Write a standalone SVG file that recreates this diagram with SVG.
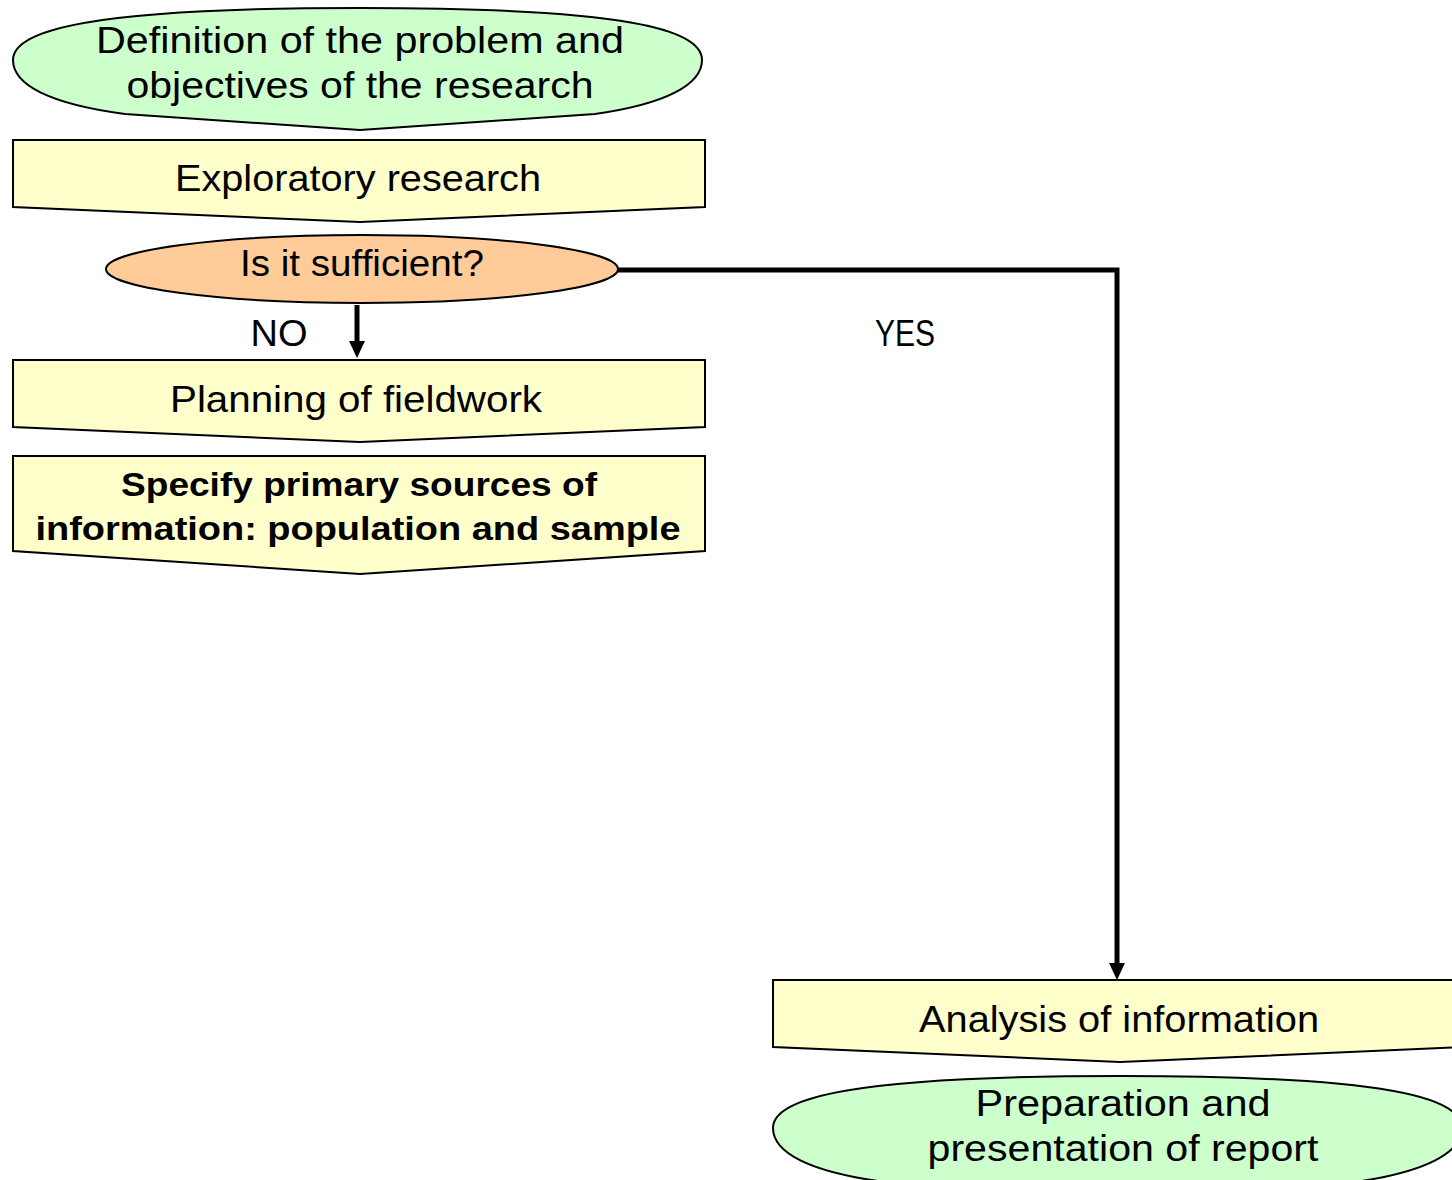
<svg xmlns="http://www.w3.org/2000/svg" width="1452" height="1180" viewBox="0 0 1452 1180">
<style>
.t{font-family:"Liberation Sans",Arial,sans-serif;font-size:36px;fill:#000;text-anchor:middle}
.b{font-weight:bold;font-size:34px}
.green{fill:#CCFFCC;stroke:#000;stroke-width:2}
.yellow{fill:#FFFFCC;stroke:#000;stroke-width:2}
.peach{fill:#FFCC99;stroke:#000;stroke-width:2}
.conn{fill:none;stroke:#000;stroke-width:5}
.head{fill:#000}
</style>
<defs>
<path id="term" d="M 125,114 C 50,104 13,85 13,60 C 13,30 90,8 360,8 C 630,8 702,30 702,60 C 702,85 665,104 595,114 L 360,130 Z"/>
<path id="ah" d="M-8,-17 L8,-17 L0,0 Z"/>
</defs>
<rect width="1452" height="1180" fill="#fff"/>
<g id="connectors">
<path class="conn" d="M 616,270 L 1117,270 L 1117,966"/>
<use href="#ah" class="head" x="1117" y="980"/>
<path class="conn" d="M 357,305 L 357,344"/>
<use href="#ah" class="head" x="357" y="358"/>
<text class="t" x="279" y="346" textLength="57" lengthAdjust="spacingAndGlyphs">NO</text>
<text class="t" x="905" y="346" textLength="60" lengthAdjust="spacingAndGlyphs">YES</text>
</g>
<g id="n1">
<use href="#term" class="green"/>
<text class="t" x="360" y="53" textLength="528" lengthAdjust="spacingAndGlyphs">Definition of the problem and</text>
<text class="t" x="360" y="98" textLength="467" lengthAdjust="spacingAndGlyphs">objectives of the research</text>
</g>
<g id="n2">
<path class="yellow" d="M13,140 L705,140 L705,207 L360,222 L13,207 Z"/>
<text class="t" x="358" y="191" textLength="366" lengthAdjust="spacingAndGlyphs">Exploratory research</text>
</g>
<g id="n3">
<ellipse class="peach" cx="362" cy="269" rx="256" ry="34"/>
<text class="t" x="362" y="276" textLength="244" lengthAdjust="spacingAndGlyphs">Is it sufficient?</text>
</g>
<g id="n4">
<path class="yellow" d="M13,360 L705,360 L705,427 L360,442 L13,427 Z"/>
<text class="t" x="356" y="412" textLength="372" lengthAdjust="spacingAndGlyphs">Planning of fieldwork</text>
</g>
<g id="n5">
<path class="yellow" d="M13,456 L705,456 L705,551 L360,574 L13,551 Z"/>
<text class="t b" x="359" y="496" textLength="476" lengthAdjust="spacingAndGlyphs">Specify primary sources of</text>
<text class="t b" x="358" y="540" textLength="645" lengthAdjust="spacingAndGlyphs">information: population and sample</text>
</g>
<g id="n6">
<path class="yellow" d="M773,980 L1465,980 L1465,1047 L1120,1062 L773,1047 Z"/>
<text class="t" x="1119" y="1032" textLength="400" lengthAdjust="spacingAndGlyphs">Analysis of information</text>
</g>
<g id="n7">
<use href="#term" class="green" transform="translate(760,1068)"/>
<text class="t" x="1123" y="1116" textLength="295" lengthAdjust="spacingAndGlyphs">Preparation and</text>
<text class="t" x="1123" y="1161" textLength="391" lengthAdjust="spacingAndGlyphs">presentation of report</text>
</g>
</svg>
